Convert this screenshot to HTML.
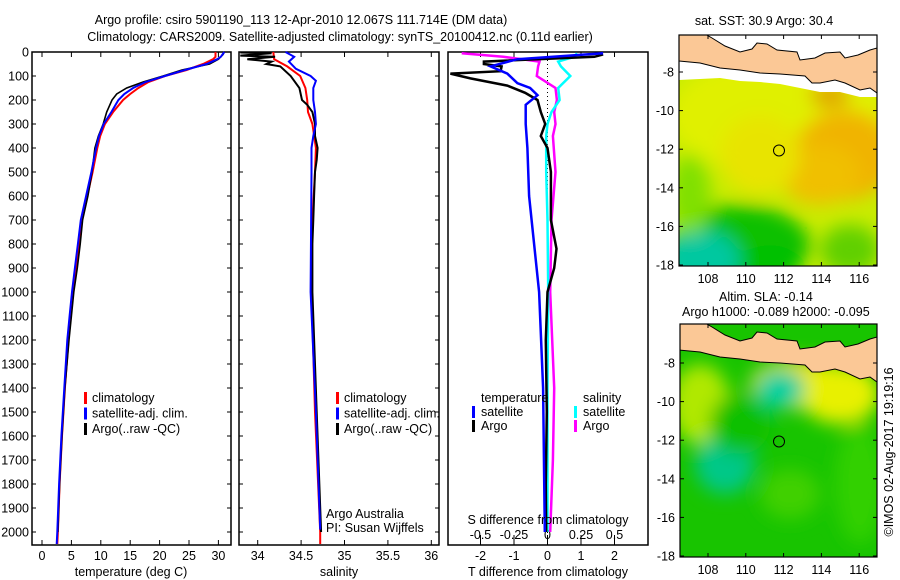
<!DOCTYPE html>
<html><head><meta charset="utf-8"><style>
body{margin:0;background:#fff;}
svg{display:block;font-family:"Liberation Sans",sans-serif;}
text{font-size:12.5px;fill:#000;}
</style></head><body>
<svg id="chart" width="900" height="580" viewBox="0 0 900 580">
<defs>
<filter id="blur" x="-20%" y="-20%" width="140%" height="140%"><feGaussianBlur stdDeviation="9"/></filter>
<clipPath id="clipTop"><rect x="679" y="35" width="198" height="231"/></clipPath>
<clipPath id="clipBot"><rect x="680" y="324" width="197" height="233"/></clipPath>
</defs>
<text x="301" y="24" text-anchor="middle">Argo profile: csiro 5901190_113 12-Apr-2010 12.067S 111.714E (DM data)</text>
<text x="340" y="41" text-anchor="middle">Climatology: CARS2009. Satellite-adjusted climatology: synTS_20100412.nc (0.11d earlier)</text>
<g id="panels"></g>
<g id="maps"></g>
</svg>
<script>
// ---------------- DATA ----------------
const tDepth = [0,20,30,50,75,100,125,150,175,200,250,300,350,400,500,600,700,800,900,1000,1100,1200,1400,1600,1800,2000,2050];
const tClim  = [29.5,29.5,29.1,27.4,24.6,20.9,18.1,16.4,15.0,13.8,12.1,10.7,9.9,9.4,8.6,7.7,6.7,6.3,5.8,5.3,4.9,4.5,3.9,3.4,3.0,2.7,2.6];
const tSat   = [31.0,30.4,29.8,28.0,24.3,20.9,17.6,15.5,14.0,13.0,11.8,10.5,9.7,9.2,8.4,7.5,6.6,6.1,5.6,5.1,4.7,4.3,3.8,3.3,2.9,2.6,2.5];
const tArgoDepth = [0,10,30,50,75,100,125,150,175,200,250,300,350,400,500,600,700,800,900,1000,1100,1200,1400,1600,1800,2000];
const tArgo  = [31.0,30.8,30.0,28.5,23.8,20.6,17.2,14.4,12.7,11.9,11.0,10.4,9.6,9.0,8.5,7.8,6.9,6.5,6.0,5.4,5.0,4.6,3.9,3.4,3.0,2.7];

const sDepth = [0,30,60,100,150,200,250,300,400,500,700,1000,1500,2000,2050];
const sClim  = [34.18,34.19,34.34,34.49,34.55,34.57,34.58,34.63,34.67,34.66,34.63,34.62,34.66,34.72,34.72];
const sSatDepth = [0,20,40,70,100,120,150,200,250,300,350,400,500,1000,1500,1990];
const sSat   = [34.32,34.42,34.36,34.44,34.61,34.67,34.64,34.64,34.66,34.67,34.64,34.62,34.62,34.61,34.67,34.72];
const sArgoDepth = [2,5,15,20,30,40,50,60,100,150,200,220,250,300,350,400,450,500,600,700,800,1000,1500,2000];
const sArgo  = [33.80,34.16,33.80,34.20,33.88,34.16,34.10,34.26,34.38,34.48,34.51,34.57,34.63,34.66,34.66,34.69,34.68,34.66,34.65,34.64,34.63,34.63,34.68,34.73];

const dTDepth = [10,20,40,50,60,80,90,110,140,170,200,250,300,350,400,500,600,700,820,900,1000,1200,1500,1800,2000];
const dTArgo  = [1.66,1.4,-1.9,-1.9,-1.37,-1.4,-2.9,-2.3,-1.2,-0.67,-0.3,-0.2,-0.07,-0.2,0,0.1,0.1,0.1,0.27,0.2,0,-0.05,-0.02,-0.05,-0.04];
const dTSatDepth = [5,30,60,90,130,150,180,220,300,400,600,800,1000,1400,2000];
const dTSat   = [1.66,-0.9,-1.7,-1.2,-0.9,-0.52,-0.3,-0.65,-0.65,-0.6,-0.55,-0.4,-0.25,-0.13,-0.08];
const dSDepth = [5,20,40,60,100,150,200,250,300,350,500,700,1000,1400,1700,2000];
const dSArgo  = [-0.64,-0.33,-0.06,-0.07,-0.08,0.06,0.07,0.05,0.06,0.04,0.06,0.03,0.02,0.05,0.04,0.02];
const dSSat   = [0.22,0.2,0.08,0.1,0.17,0.08,0.09,0.03,0,-0.01,-0.01,0.0,0.005,0.0,0.0,0.0];

const depthTicks = [0,100,200,300,400,500,600,700,800,900,1000,1100,1200,1300,1400,1500,1600,1700,1800,1900,2000];
const tTicks = [0,5,10,15,20,25,30];
const sTicks = [34,34.5,35,35.5,36];
const sTickLabels = ['34','34.5','35','35.5','36'];
const dTTicks = [-2,-1,0,1,2];
const dSTicks = [-0.5,-0.25,0,0.25,0.5];
const dSTickLabels = ['-0.5','-0.25','0','0.25','0.5'];

// ---------------- SCALES ----------------
const NS='http://www.w3.org/2000/svg';
const yD = d => 52 + d*0.24;
const xT = t => 42 + t*5.88;
const xS = s => 257.7 + (s-34)*86.8;
const xDT = t => 547.5 + t*33.5;
const xDS = s => 547.5 + s*134;
const g = document.getElementById('panels');
function el(tag, attrs, parent){const e=document.createElementNS(NS,tag);for(const k in attrs)e.setAttribute(k,attrs[k]);(parent||g).appendChild(e);return e;}
function txt(x,y,s,anchor,parent){const e=el('text',{x:x,y:y,'text-anchor':anchor||'start'},parent);e.textContent=s;return e;}
function line(xs,ds,xf,color,w,name){
  const pts=xs.map((v,i)=>xf(v).toFixed(1)+','+yD(ds[i]).toFixed(1)).join(' ');
  const p=el('polyline',{points:pts,fill:'none',stroke:color,'stroke-width':w,'stroke-linejoin':'miter'});
  
  
}
function frame(x0,x1,name){
  const r=el('rect',{x:x0,y:52,width:x1-x0,height:493,fill:'none',stroke:'#000','stroke-width':1.5});
  
  
}
// Panel 1: temperature
frame(32,231,'temperature-panel');
depthTicks.forEach(d=>{el('line',{x1:32,x2:36,y1:yD(d),y2:yD(d),stroke:'#000'});el('line',{x1:227,x2:231,y1:yD(d),y2:yD(d),stroke:'#000'});
  const t=txt(29,yD(d)+4.5,String(d),'end');});
tTicks.forEach(v=>{el('line',{x1:xT(v),x2:xT(v),y1:545,y2:540,stroke:'#000'});el('line',{x1:xT(v),x2:xT(v),y1:52,y2:57,stroke:'#000'});
  const t=txt(xT(v),560,String(v),'middle');});
line(tClim,tDepth,xT,'#ff0000',2,'temperature-climatology-line');
line(tArgo,tArgoDepth,xT,'#000',1.6,'temperature-argo-line');
line(tSat,tDepth,xT,'#0000ff',2,'temperature-satellite-line');
let t1=txt(131,576,'temperature (deg C)','middle');
function legend3(x,y,name){
  const items=[['#ff0000','climatology'],['#0000ff','satellite-adj. clim.'],['#000','Argo(..raw -QC)']];
  items.forEach((it,i)=>{el('rect',{x:x,y:y+i*15.5-10,width:3,height:12,fill:it[0]});
   const t=txt(x+8,y+i*15.5,it[1]);});
}
legend3(84,402,'temperature-legend');
// Panel 2: salinity
frame(239,439,'salinity-panel');
depthTicks.forEach(d=>{el('line',{x1:239,x2:243,y1:yD(d),y2:yD(d),stroke:'#000'});el('line',{x1:435,x2:439,y1:yD(d),y2:yD(d),stroke:'#000'});});
sTicks.forEach((v,i)=>{el('line',{x1:xS(v),x2:xS(v),y1:545,y2:540,stroke:'#000'});el('line',{x1:xS(v),x2:xS(v),y1:52,y2:57,stroke:'#000'});
  const t=txt(xS(v),560,sTickLabels[i],'middle');});
line(sClim,sDepth,xS,'#ff0000',2,'salinity-climatology-line');
line(sArgo,sArgoDepth,xS,'#000',2,'salinity-argo-line');
line(sSat,sSatDepth,xS,'#0000ff',2,'salinity-satellite-line');
let t2=txt(339,576,'salinity','middle');
legend3(336,402,'salinity-legend');
let a1=txt(326,518,'Argo Australia');
let a2=txt(326,532,'PI: Susan Wijffels');
// Panel 3: differences
frame(448,648,'difference-panel');
el('line',{x1:xDT(0),x2:xDT(0),y1:52,y2:545,stroke:'#000','stroke-dasharray':'1,3','stroke-width':1});
dTTicks.forEach(v=>{el('line',{x1:xDT(v),x2:xDT(v),y1:545,y2:540,stroke:'#000'});el('line',{x1:xDT(v),x2:xDT(v),y1:52,y2:57,stroke:'#000'});
  const t=txt(xDT(v),560,String(v),'middle');});
dSTicks.forEach((v,i)=>{el('line',{x1:xDS(v),x2:xDS(v),y1:540,y2:535,stroke:'#000'});
  const t=txt(xDS(v),539,dSTickLabels[i],'middle');});
line(dSArgo,dSDepth,xDS,'#ff00ff',2.5,'salinity-argo-diff-line');
line(dSSat,dSDepth,xDS,'#00ffff',2.5,'salinity-satellite-diff-line');
line(dTArgo,dTDepth,xDT,'#000',2.5,'temperature-argo-diff-line');
line(dTSat,dTSatDepth,xDT,'#0000ff',2.5,'temperature-satellite-diff-line');
let t3=txt(548,576,'T difference from climatology','middle');
let t4=txt(548,524,'S difference from climatology','middle');
[['temperature',481,402],['salinity',583,402]].forEach(a=>{const t=txt(a[1],a[2],a[0]);});
[[472,'#0000ff','satellite',416],[472,'#000','Argo',430],[574,'#00ffff','satellite',416],[574,'#ff00ff','Argo',430]].forEach(a=>{
  el('rect',{x:a[0],y:a[3]-10,width:3,height:12,fill:a[1]});
  const t=txt(a[0]+9,a[3],a[2]);});

// ---------------- MAPS ----------------
const m=document.getElementById('maps');
function map(x0,y0,w,h,latRef,yRef,clip,blobs,base,name,white){
  const grp=el('g',{},m);
  const fld=el('g',{'clip-path':'url(#'+clip+')'},grp);
  el('rect',{x:x0,y:y0,width:w,height:h,fill:base},fld);
  const bg=el('g',{filter:'url(#blur)'},fld);
  blobs.forEach(b=>el('ellipse',{cx:b[0],cy:b[1]+y0,rx:b[2],ry:b[3],fill:b[4]},bg));
  const o=y0-35;
  if(white) el('polygon',{points:'679,35 877,35 877,97 860,97 840,92 820,92 800,88 780,84 760,82 740,81 720,78 700,79 679,80',fill:'#fff'},fld);
  const land='679,34 705,34 712,38 725,46 740,52 752,49 757,43 767,44 777,50 797,52 800,60 815,58 825,53 840,52 845,58 858,55 870,50 877,48 877,93 870,88 860,90 845,83 835,80 820,83 812,83 805,76 780,74 760,73 740,70 720,68 700,63 679,61';
  const lp=el('polygon',{points:land,fill:'#fbc896',stroke:'#000','stroke-width':1,transform:'translate(0,'+o+')'},fld);
  
  el('rect',{x:x0,y:y0,width:w,height:h,fill:'none',stroke:'#000','stroke-width':1.2},grp);
  const xL=lon=>708+(lon-108)*18.9;
  [108,110,112,114,116].forEach(l=>{el('line',{x1:xL(l),x2:xL(l),y1:y0,y2:y0+4,stroke:'#000'},grp);el('line',{x1:xL(l),x2:xL(l),y1:y0+h,y2:y0+h-4,stroke:'#000'},grp);
    const t=txt(xL(l),y0+h+17,String(l),'middle',grp);});
  [-8,-10,-12,-14,-16,-18].forEach(la=>{const y=yRef+(-8-la)*19.3;el('line',{x1:x0,x2:x0+4,y1:y,y2:y,stroke:'#000'},grp);el('line',{x1:x0+w,x2:x0+w-4,y1:y,y2:y,stroke:'#000'},grp);
    const t=txt(x0-5,y+4.5,String(la),'end',grp);});
  const c=el('circle',{cx:779,cy:yRef+4.067*19.3,r:5.5,fill:'none',stroke:'#000','stroke-width':1},grp);
  
}
map(679,35,198,231,-8,72,'clipTop',[
  [780,80,110,60,'#e0f000'],[845,120,50,45,'#f0b400'],[820,140,40,30,'#f0c000'],[760,120,40,40,'#e8e400'],
  [740,210,70,40,'#10c000'],[700,225,40,30,'#00c8a0'],[770,230,30,20,'#00c000'],[850,215,30,25,'#60d000'],
  [690,160,20,40,'#80e000'],[830,60,20,12,'#e0a000']],'#c8ec00','sst-map',true);
map(680,324,197,233,-8,363,'clipBot',[
  [800,60,50,25,'#f0e000'],[840,70,40,30,'#e8f000'],[700,80,30,40,'#b0e800'],[780,65,25,20,'#00d0a0'],
  [725,140,30,30,'#00c888'],[790,170,30,25,'#40d000'],[860,160,25,60,'#30d000'],[740,100,30,30,'#10c000']],'#18c400','sla-map',false);
const s1=txt(764,25,'sat. SST: 30.9 Argo: 30.4','middle',m);
const s2=txt(719,301,'Altim. SLA: -0.14','start',m);
const s3=txt(682,316,'Argo h1000: -0.089 h2000: -0.095','start',m);
const s4=txt(0,0,'©IMOS 02-Aug-2017 19:19:16','middle',m);s4.setAttribute('transform','translate(893,452) rotate(-90)');


</script>
</body></html>
